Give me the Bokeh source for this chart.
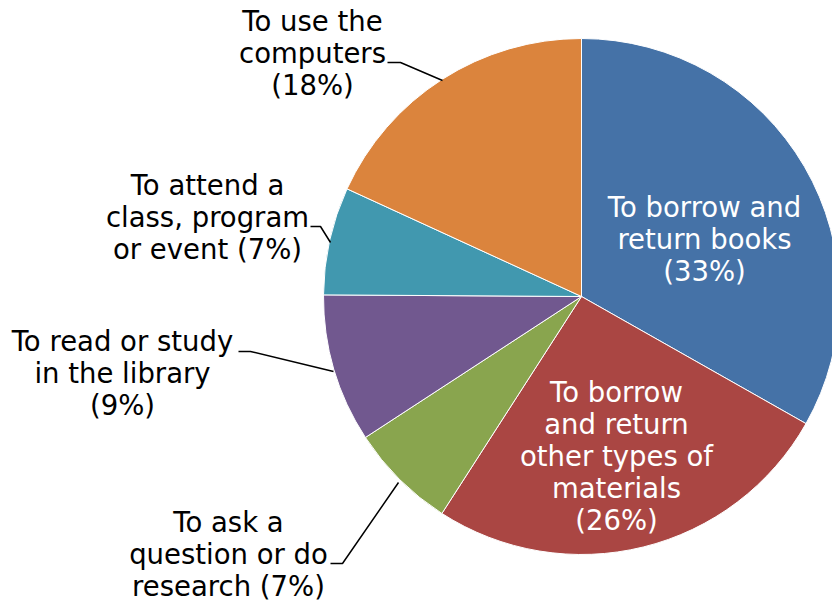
import math
from bokeh.plotting import figure
from bokeh.models import Range1d, ColumnDataSource
from bokeh.core.properties import value
from bokeh.embed import file_html
from bokeh.resources import INLINE

# ---- data ----
categories = [
    "To borrow and\nreturn books\n(33%)",
    "To borrow\nand return\nother types of\nmaterials\n(26%)",
    "To ask a\nquestion or do\nresearch (7%)",
    "To read or study\nin the library\n(9%)",
    "To attend a\nclass, program\nor event (7%)",
    "To use the\ncomputers\n(18%)",
]
shares = [33.2, 25.9, 6.7, 9.3, 6.75, 18.15]
colors = ["#4572A7", "#AA4643", "#89A54E", "#71588F", "#4198AF", "#DB843D"]

# ---- layout (screen-pixel coordinates, y measured from top of window) ----
W, H = 832, 602
def Y(sy):
    return H - sy

cx, cy, r = 581, Y(296), 258

total = sum(shares)
starts, ends = [], []
c = 0.0
for s in shares:
    a0 = math.pi / 2 - 2 * math.pi * c / total
    c += s
    a1 = math.pi / 2 - 2 * math.pi * c / total
    starts.append(a1)
    ends.append(a0)

p = figure(width=W, height=H, output_backend="svg", toolbar_location=None,
           x_range=Range1d(0, W), y_range=Range1d(0, H),
           x_axis_location=None, y_axis_location=None, min_border=0)
p.outline_line_color = None
p.xgrid.visible = False
p.ygrid.visible = False
p.background_fill_color = "white"
p.border_fill_color = "white"

src = ColumnDataSource(dict(x=[cx] * len(shares), y=[cy] * len(shares),
                            start=starts, end=ends, color=colors))
p.wedge(x="x", y="y", radius=r, start_angle="start", end_angle="end",
        direction="anticlock", fill_color="color", line_color="white",
        line_width=1, source=src)

# label block centres
label_pos = [(704, 238), (616, 455), (228, 553), (122, 372), (207, 216), (312, 52)]
inside = [True, True, False, False, False, False]

for lab, (lx, ly), ins in zip(categories, label_pos, inside):
    p.text(x=[lx], y=[Y(ly)], text=[lab], text_font=value("DejaVu Sans"),
           text_font_size="27.5px", text_align="center", text_baseline="middle",
           text_line_height=1.0, text_color="white" if ins else "black")

# leader lines
leaders = [
    [(387, 62), (400, 62), (442, 80)],
    [(310, 226), (320, 226), (330, 242)],
    [(238, 351), (250, 351), (333, 371)],
    [(330, 563), (342, 563), (398, 482)],
]
p.multi_line(xs=[[pt[0] for pt in l] for l in leaders],
             ys=[[Y(pt[1]) for pt in l] for l in leaders],
             line_color="black", line_width=1.5)

open("out.html", "w").write(file_html(p, INLINE))
